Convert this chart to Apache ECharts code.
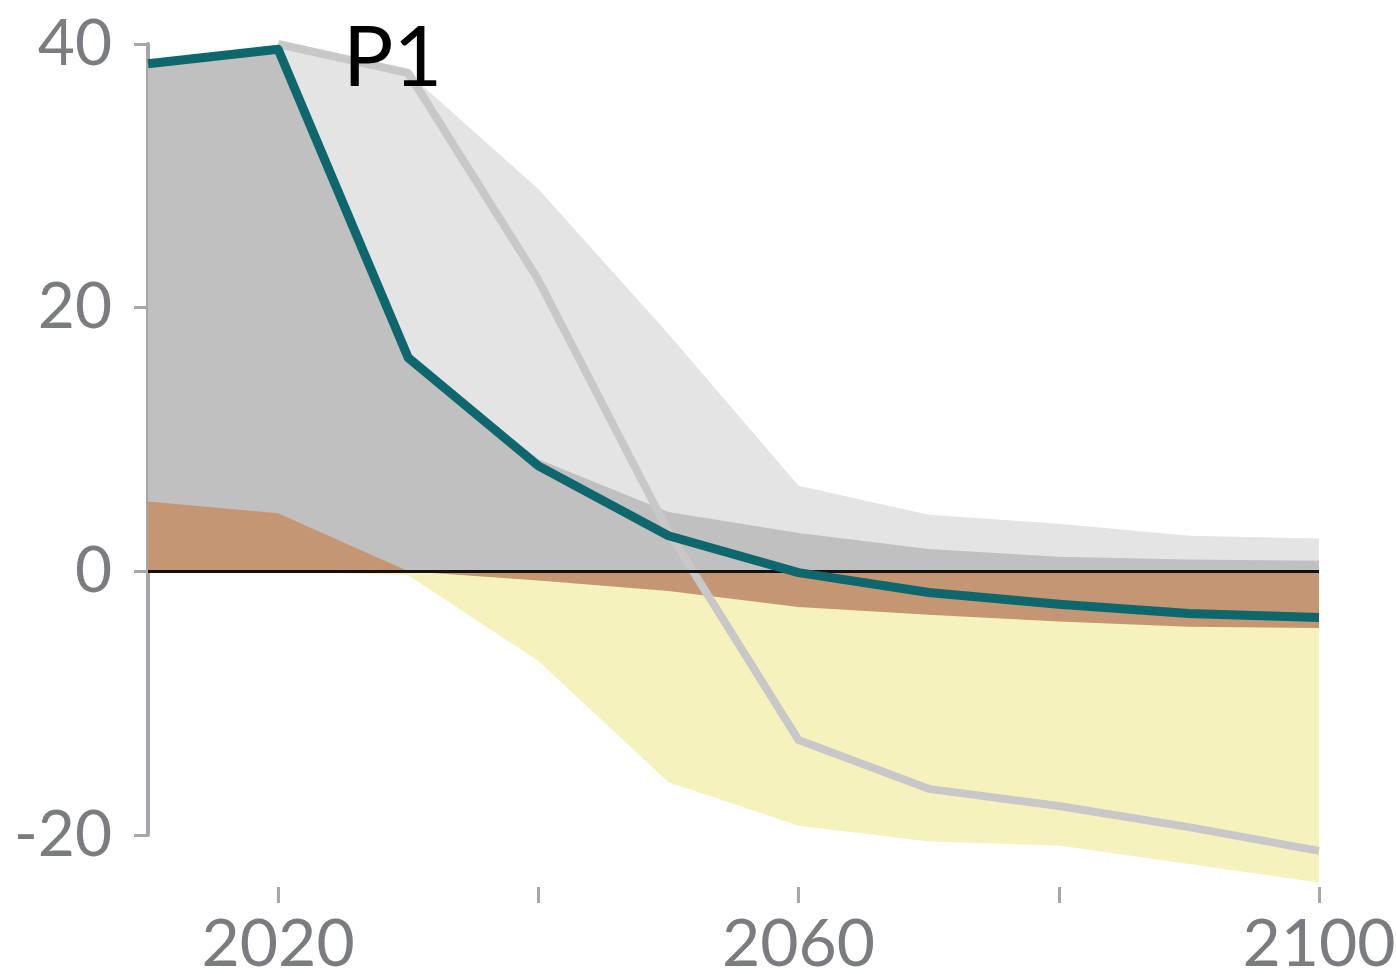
<!DOCTYPE html>
<html>
<head>
<meta charset="utf-8">
<title>P1</title>
<script src="https://cdn.jsdelivr.net/npm/echarts@6/dist/echarts.min.js"></script>
<style>
  html, body { margin: 0; padding: 0; background: #fff; }
  #chart { width: 1396px; height: 974px; }
</style>
</head>
<body>
<div id="chart"></div>
<script>
// years on the x axis
var years = [2010, 2020, 2030, 2040, 2050, 2060, 2070, 2080, 2090, 2100]
// net CO2 (teal line)
var netCO2 = [38.5, 39.6, 16.2, 8.0, 2.7, -0.1, -1.6, -2.5, -3.2, -3.5]
// reference pathway (grey line)
var refLine = [null, 40.0, 37.8, 22.1, 3.0, -12.8, -16.5, -17.8, -19.4, -21.2]
// light grey band top
var fossilUpper = [null, 40.0, 37.8, 29.0, 18.0, 6.5, 4.3, 3.6, 2.7, 2.5]
// fossil fuel & industry (dark grey)
var fossil = [38.5, 39.6, 16.2, 8.5, 4.5, 2.9, 1.7, 1.1, 0.9, 0.8]
// AFOLU (brown)
var afolu = [5.3, 4.4, 0.0, -0.7, -1.5, -2.7, -3.3, -3.8, -4.2, -4.3]
// BECCS (yellow)
var beccs = [null, 0.0, -0.3, -6.8, -16.0, -19.3, -20.5, -20.8, -22.2, -23.6]

var yTicks = [-20, 0, 20, 40]
var xTicks = [2020, 2040, 2060, 2080, 2100]
var xLabels = [2020, 2060, 2100]

function pairs (arr) {
  var out = []
  for (var i = 0; i < years.length; i++) {
    if (arr[i] !== null) out.push([years[i], arr[i]])
  }
  return out
}

function area (name, arr, color) {
  return {
    name: name,
    type: 'line',
    data: pairs(arr),
    symbol: 'none',
    clip: false,
    silent: true,
    lineStyle: { width: 0 },
    areaStyle: { color: color, opacity: 1 }
  }
}

var chart = echarts.init(document.getElementById('chart'))
var grey = '#7b7c80'
var axisGrey = '#a5a6a9'
var font = 'Lato'

chart.setOption({
  animation: false,
  grid: { left: 148, right: 77, top: 44, bottom: 139, outerBoundsMode: 'none' },
  graphic: [{
    type: 'text',
    z: 100,
    left: 343,
    top: 17,
    style: { text: 'P1', font: '84px Lato', fill: '#000' }
  }],
  xAxis: {
    type: 'value',
    min: 2010,
    max: 2100,
    offset: 52,
    splitLine: { show: false },
    axisLine: { show: false, onZero: false },
    axisTick: {
      show: true,
      customValues: xTicks,
      length: 16,
      lineStyle: { color: axisGrey, width: 3 }
    },
    axisLabel: {
      customValues: xLabels,
      margin: 25,
      fontSize: 66,
      fontFamily: font,
      color: grey,
      formatter: function (v) { return String(v) }
    }
  },
  yAxis: {
    type: 'value',
    min: yTicks[0],
    max: yTicks[yTicks.length - 1],
    interval: 20,
    splitLine: { show: false },
    axisLine: { show: true, lineStyle: { color: axisGrey, width: 4 } },
    axisTick: { show: true, length: 14, lineStyle: { color: axisGrey, width: 3 } },
    axisLabel: {
      margin: 36,
      fontSize: 64,
      fontFamily: font,
      color: grey
    }
  },
  series: [
    area('range', fossilUpper, '#e4e4e4'),
    area('BECCS', beccs, '#f6f2be'),
    {
      name: 'reference',
      type: 'line',
      data: pairs(refLine),
      symbol: 'none',
      clip: false,
      lineStyle: { color: '#c8c8c9', width: 8, join: 'round' }
    },
    area('fossil', fossil, '#c0c0c0'),
    Object.assign(area('AFOLU', afolu, '#c49673'), {
      markLine: {
        silent: true,
        symbol: 'none',
        z: 4,
        label: { show: false },
        lineStyle: { color: '#111', type: 'solid', width: 3 },
        data: [{ yAxis: 0 }]
      }
    }),
    {
      name: 'net CO2',
      type: 'line',
      z: 6,
      data: pairs(netCO2),
      symbol: 'none',
      clip: false,
      lineStyle: { color: '#0d676c', width: 9, join: 'round' }
    }
  ]
})
</script>
</body>
</html>
